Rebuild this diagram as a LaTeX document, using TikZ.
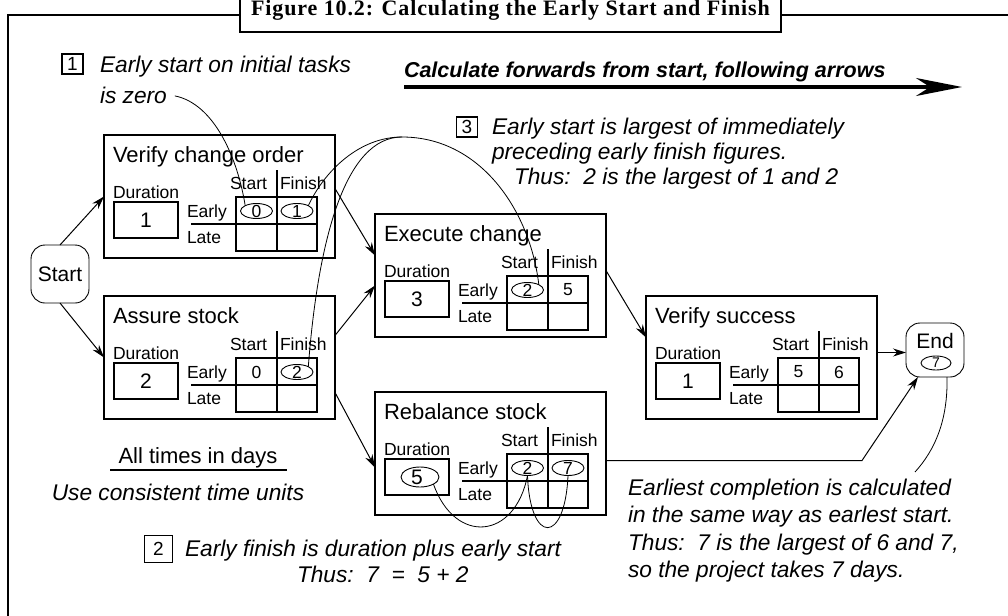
\documentclass[tikz,border=0pt]{standalone}
\usepackage{fontspec}
\setmainfont{Liberation Sans}
\newfontfamily\headserif{Liberation Serif}[LetterSpace=4]
\usetikzlibrary{arrows.meta,shapes.geometric}

% one activity box: name, top-left corner, title, duration, early start, early finish
\newcommand{\taskbox}[6]{%
  \begin{scope}[shift={(#2)}]
    \node[taskframe, anchor=north west] (#1) at (0,0) {};
    \node[tasktitle] (#1-name) at (9,27.5) {#3};
    \node[smalllbl] (#1-durlbl) at (9,63.5) {Duration};
    \node[durbox] (#1-dur) at (42,85) {#4};
    \node[smalllbl] (#1-startlbl) at (126,54.5) {Start};
    \node[smalllbl] (#1-finishlbl) at (176,54.5) {Finish};
    \node[smalllbl] (#1-earlylbl) at (83,82) {Early};
    \node[smalllbl] (#1-latelbl) at (83,108) {Late};
    \draw[gridline] (132,62) rectangle (213,116);
    \draw[gridline] (87,89) -- (213,89);
    \draw[gridline] (173,35) -- (173,116);
    \node[cellnum] (#1-es) at (152.5,76) {#5};
    \node[cellnum] (#1-ef) at (193,76) {#6};
  \end{scope}}

\begin{document}
\begin{tikzpicture}[x=1pt,y=-1pt,
  every node/.style={inner sep=0pt, outer sep=0pt},
  frameline/.style={line width=2.6pt},
  taskframe/.style={draw, line width=1.5pt, minimum width=231pt, minimum height=123pt},
  tasktitle/.style={anchor=base west, font=\fontsize{22}{26}\selectfont},
  smalllbl/.style={anchor=base west, font=\fontsize{17.5}{20}\selectfont},
  gridline/.style={line width=1.4pt},
  cellnum/.style={font=\fontsize{17.5}{20}\selectfont},
  durbox/.style={draw, line width=1.5pt, minimum width=64pt, minimum height=36pt, font=\fontsize{21}{24}\selectfont},
  oval/.style={draw, ellipse, line width=0.9pt, minimum width=32pt, minimum height=15pt},
  terminal/.style={draw, line width=0.9pt, rounded corners=14pt, minimum width=58pt},
  arr/.style={-{Stealth[length=13pt,width=8pt]}, line width=1pt},
  link/.style={line width=0.8pt},
  note/.style={anchor=base west, font=\itshape\fontsize{22.7}{26}\selectfont},
  plain/.style={anchor=base, font=\fontsize{22}{26}\selectfont},
  numbox/.style={draw, line width=1.1pt, minimum width=21pt, minimum height=20pt, font=\fontsize{19}{22}\selectfont},
  bigarrow/.style={-{Stealth[length=46pt,width=18pt,inset=14pt]}, line width=3.2pt}
]
\useasboundingbox (0,0) rectangle (1008,615);
\fill[white] (0,0) rectangle (1008,615);

% outer frame and caption
\draw[frameline] (8,630) -- (8,15) -- (240,15);
\draw[frameline] (781,15) -- (1020,15);
\node[draw, line width=2.4pt, minimum width=541pt, minimum height=40pt, fill=white] (titlebox) at (510.5,12) {};
\node[anchor=base, font=\headserif\bfseries\fontsize{22}{26}\selectfont] (title) at (510.5,16)
  {Figure 10.2: Calculating the Early Start and Finish};

% direction banner
\node[anchor=base west, font=\bfseries\itshape\fontsize{21.5}{25}\selectfont] (fwd) at (404,78)
  {Calculate forwards from start, following arrows};
\coordinate (fwd-a) at (404,87);
\coordinate (fwd-b) at (962,87);
\draw[bigarrow] (fwd-a) -- (fwd-b);

% terminals
\node[terminal, minimum height=58pt, font=\fontsize{21}{24}\selectfont] (start) at (60,274) {Start};
\node[terminal, minimum height=54pt] (end) at (935,350) {};
\node[font=\fontsize{21}{24}\selectfont] (end-lbl) at (935,340.5) {End};
\node[draw, ellipse, line width=0.9pt, minimum width=30pt, minimum height=14pt, font=\fontsize{14}{16}\selectfont] (end-7) at (936,363) {7};

% activities
\taskbox{v}{104,135}{Verify change order}{1}{0}{1}
\taskbox{a}{104,296}{Assure stock}{2}{0}{2}
\taskbox{e}{375,214}{Execute change}{3}{2}{5}
\taskbox{r}{375,392}{Rebalance stock}{5}{2}{7}
\taskbox{s}{646,296}{Verify success}{1}{5}{6}

% circled figures
\node[oval] (v-es-o) at (v-es) {};
\node[oval] (v-ef-o) at (v-ef) {};
\node[oval] (a-ef-o) at (a-ef) {};
\node[oval] (e-es-o) at (e-es) {};
\node[oval] (r-es-o) at (r-es) {};
\node[oval] (r-ef-o) at (r-ef) {};
\node[oval, minimum width=38pt, minimum height=20pt] (r-dur-o) at ([xshift=3pt]r-dur) {};

% dependency arrows
\draw[arr] (start.north) -- (v.west);
\draw[arr] (start.south) -- (a.west);
\draw[arr] ([yshift=8pt]v.east) -- ([yshift=20pt]e.west);
\draw[arr] ([yshift=22pt]a.east) -- ([yshift=-10pt]e.west);
\draw[arr] ([yshift=-35pt]a.east) -- ([yshift=-14pt]r.west);
\draw[arr] ([yshift=5pt]e.east) -- ([yshift=20pt]s.west);
\draw[arr] ([yshift=5pt]s.east) -- ([yshift=5pt]s.east -| end.west);
\coordinate (rb-bend) at (862,460.5);
\draw[arr] ([yshift=-7pt]r.east) -- (rb-bend) -- ([xshift=-17pt]end.south);

% note 1
\node[numbox] (n1) at (72.5,64) {1};
\node[note] (n1a) at (100,73) {Early start on initial tasks};
\node[note] (n1b) at (100,104) {is zero};
\draw[link] ([xshift=8pt]n1b.east) .. controls (215,104) and (238,160) .. (v-es-o.north west);

% note 3
\node[numbox] (n3) at (467,127) {3};
\node[note] (n3a) at (492,134) {Early start is largest of immediately};
\node[note] (n3b) at (492,159) {preceding early finish figures.};
\node[note] (n3c) at (514,184) {Thus:\ \ 2 is the largest of 1 and 2};
\coordinate (apex) at (402,137);
\draw[link] (v-ef-o.north east) .. controls (325,170) and (360,137) .. (apex);
\draw[link] (a-ef-o.north east) .. controls (318,240) and (345,137) .. (apex);
\draw[link] (apex) .. controls (480,137) and (530,210) .. (e-es-o.north east);

% units
\node[plain] (units) at (198,463) {All times in days};
\coordinate (ul-a) at (110,470);
\coordinate (ul-b) at (287,470);
\draw[line width=1.2pt] (ul-a) -- (ul-b);
\node[note, anchor=base] (units2) at (178,500) {Use consistent time units};

% note 2
\node[numbox, minimum width=28pt, minimum height=27pt] (n2) at (158.5,549) {2};
\node[note] (n2a) at (185,556) {Early finish is duration plus early start};
\node[note] (n2b) at (297,582) {Thus:\ \ 7\ \ =\ \ 5 + 2};
\draw[link] (r-dur-o.south east) .. controls (455,545) and (515,540) .. (r-es-o.south);
\draw[link] (r-es-o.south) .. controls (530,545) and (565,545) .. (r-ef-o.south);

% note 4
\node[note] (n4a) at (628,495) {Earliest completion is calculated};
\node[note] (n4b) at (628,522) {in the same way as earlest start.};
\node[note] (n4c) at (628,550) {Thus:\ \ 7 is the largest of 6 and 7,};
\node[note] (n4d) at (628,577) {so the project takes 7 days.};
\coordinate (n4-top) at (915,472);
\draw[link] ([xshift=12pt]end.south) .. controls (948,420) and (935,450) .. (n4-top);
\end{tikzpicture}
\end{document}
